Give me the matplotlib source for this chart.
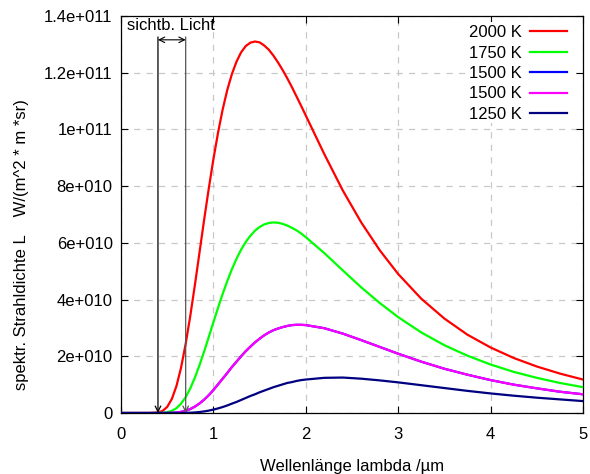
import matplotlib
matplotlib.use('Agg')
import matplotlib.pyplot as plt
from matplotlib.patches import Rectangle

plt.rcParams['font.family'] = ['Liberation Sans', 'DejaVu Sans']

# wavelength in um
wl = [0.0, 0.2, 0.3, 0.4, 0.45, 0.5, 0.55, 0.6, 0.65, 0.7, 0.75, 0.8, 0.85,
      0.9, 0.95, 1.0, 1.05, 1.1, 1.15, 1.2, 1.25, 1.3, 1.35, 1.4, 1.45, 1.5,
      1.55, 1.6, 1.65, 1.7, 1.75, 1.8, 1.85, 1.9, 1.95, 2.0, 2.2, 2.4, 2.6,
      2.8, 3.0, 3.25, 3.5, 3.75, 4.0, 4.25, 4.5, 4.75, 5.0]

# values, W/(m^2 * m * sr)
L2000 = [0, 0, 0.002e9, 0.18e9, 0.74e9, 2.15e9, 4.94e9, 9.5e9, 16.0e9, 24.4e9,
         34.3e9, 45.2e9, 56.7e9, 68.2e9, 79.2e9, 89.5e9, 98.8e9, 107.0e9,
         113.9e9, 119.5e9, 123.9e9, 127.2e9, 129.4e9, 130.6e9, 131.0e9,
         130.7e9, 129.6e9, 128.1e9, 126.0e9, 123.6e9, 120.9e9, 118.0e9,
         114.9e9, 111.6e9, 108.3e9, 104.9e9, 91.3e9, 78.5e9, 67.2e9, 57.4e9,
         49.0e9, 40.3e9, 33.3e9, 27.6e9, 23.1e9, 19.4e9, 16.4e9, 13.9e9, 11.8e9]
L1750 = [0, 0, 0, 0.01e9, 0.08e9, 0.28e9, 0.76e9, 1.7e9, 3.3e9, 5.6e9,
         8.7e9, 12.5e9, 16.9e9, 21.7e9, 26.8e9, 32.0e9, 37.1e9, 42.0e9,
         46.5e9, 50.7e9, 54.4e9, 57.6e9, 60.3e9, 62.5e9, 64.3e9, 65.6e9,
         66.5e9, 67.0e9, 67.2e9, 67.1e9, 66.7e9, 66.1e9, 65.3e9, 64.4e9,
         63.3e9, 62.0e9, 56.4e9, 50.3e9, 44.3e9, 38.8e9, 33.8e9, 28.4e9,
         23.9e9, 20.2e9, 17.1e9, 14.5e9, 12.4e9, 10.6e9, 9.1e9]
L1500 = [0, 0, 0, 0, 0, 0.02e9, 0.06e9, 0.17e9, 0.40e9, 0.79e9, 1.4e9, 2.26e9,
         3.37e9, 4.7e9, 6.3e9, 8.1e9, 10.1e9, 12.1e9, 14.1e9, 16.2e9, 18.1e9,
         20.0e9, 21.8e9, 23.4e9, 24.9e9, 26.2e9, 27.4e9, 28.4e9, 29.2e9,
         29.8e9, 30.3e9, 30.7e9, 31.0e9, 31.1e9, 31.1e9, 31.0e9, 29.9e9,
         28.0e9, 25.7e9, 23.3e9, 20.9e9, 18.1e9, 15.6e9, 13.5e9, 11.6e9,
         10.0e9, 8.7e9, 7.5e9, 6.6e9]
L1250 = [0, 0, 0, 0, 0, 0, 0, 0.01e9, 0.02e9, 0.05e9, 0.11e9, 0.2e9, 0.35e9,
         0.56e9, 0.84e9, 1.2e9, 1.62e9, 2.1e9, 2.66e9, 3.3e9, 3.9e9, 4.6e9,
         5.3e9, 6.0e9, 6.6e9, 7.3e9, 7.9e9, 8.5e9, 9.1e9, 9.6e9, 10.1e9,
         10.6e9, 10.9e9, 11.3e9, 11.6e9, 11.8e9, 12.4e9, 12.5e9, 12.1e9,
         11.5e9, 10.8e9, 9.8e9, 8.8e9, 7.8e9, 6.9e9, 6.1e9, 5.4e9, 4.8e9, 4.2e9]

series = [('2000 K', L2000, '#ff0000'),
          ('1750 K', L1750, '#00ff00'),
          ('1500 K', L1500, '#0000ff'),
          ('1500 K', L1500, '#ff00ff'),
          ('1250 K', L1250, '#000080')]

vis_lo, vis_hi = 0.4, 0.7
xticks = [0, 1, 2, 3, 4, 5]
yticks = [0, 2e10, 4e10, 6e10, 8e10, 1e11, 1.2e11, 1.4e11]
ylabels = ['0', '2e+010', '4e+010', '6e+010', '8e+010', '1e+011', '1.2e+011', '1.4e+011']

fig = plt.figure(figsize=(5.9, 4.74), dpi=100)
ax = fig.add_axes([121 / 590, 1 - 413 / 474, 462 / 590, 397 / 474])

for name, vals, col in series:
    ax.plot(wl, vals, color=col, lw=1.6, label=name, zorder=3)

ax.set_xlim(0, 5)
ax.set_ylim(0, 1.4e11)
ax.set_xticks(xticks)
ax.set_xticklabels([str(t) for t in xticks])
ax.set_yticks(yticks)
ax.set_yticklabels(ylabels)
ax.tick_params(direction='in', length=5, width=0.8, top=True, right=True,
               labelsize=12)
ax.tick_params(axis='x', pad=10)
ax.tick_params(axis='y', pad=6)
ax.grid(True, color='#c8c8c8', linestyle=(0, (5, 5)), lw=0.9)
for s in ax.spines.values():
    s.set_linewidth(0.9)

# visible light range
top_y = 1.326e11
ax.annotate('', xy=(vis_lo, 0), xytext=(vis_lo, top_y),
            arrowprops=dict(arrowstyle='->', color='black', lw=0.9,
                            shrinkA=0, shrinkB=0), zorder=4)
ax.annotate('', xy=(vis_hi, 0), xytext=(vis_hi, top_y),
            arrowprops=dict(arrowstyle='->', color='#555555', lw=0.9,
                            shrinkA=0, shrinkB=0), zorder=4)
ax.annotate('', xy=(vis_hi, 1.316e11), xytext=(vis_lo, 1.316e11),
            arrowprops=dict(arrowstyle='<->', color='black', lw=0.8,
                            shrinkA=0, shrinkB=0), zorder=4)
ax.text(0.065, 1.365e11, 'sichtb. Licht', fontsize=12, va='center', ha='left')

# key area blanks the grid (gnuplot style)
ax.add_patch(Rectangle(((466 - 121) / 462, (413 - 123) / 397),
                       (576 - 466) / 462, (123 - 22) / 397,
                       transform=ax.transAxes, facecolor='white',
                       edgecolor='none', zorder=1.8))

leg = ax.legend(loc='upper right', frameon=False, markerfirst=False,
                fontsize=12, handlelength=2.2, handletextpad=0.5,
                labelspacing=0.33, borderaxespad=0, borderpad=0,
                bbox_to_anchor=((567 - 121) / 462, (413 - 25) / 397))

fig.text(22 / 590, 1 - 245 / 474, 'spektr. Strahldichte L    W/(m^2 * m *sr)',
         rotation=90, fontsize=12, ha='center', va='center')
fig.text(352 / 590, 1 - 466 / 474, 'Wellenlänge lambda /µm', fontsize=12,
         ha='center', va='center')

fig.savefig('out.png', dpi=100)
